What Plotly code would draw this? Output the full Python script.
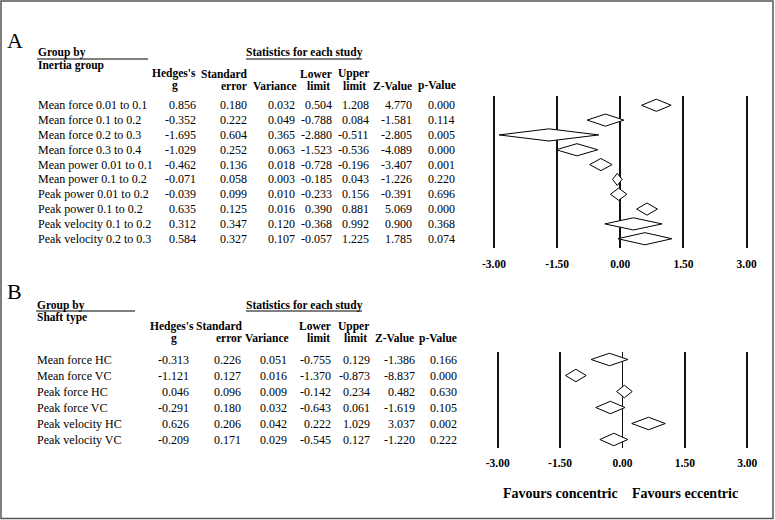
import plotly.graph_objects as go

W, H = 775, 520
SERIF = "Liberation Serif"

# ---- panel A: inertia group ----
inertia_groups = ["Mean force 0.01 to 0.1", "Mean force 0.1 to 0.2", "Mean force 0.2 to 0.3",
                  "Mean force 0.3 to 0.4", "Mean power 0.01 to 0.1", "Mean power 0.1 to 0.2",
                  "Peak power 0.01 to 0.2", "Peak power 0.1 to 0.2", "Peak velocity 0.1 to 0.2",
                  "Peak velocity 0.2 to 0.3"]
a_g = [0.856, -0.352, -1.695, -1.029, -0.462, -0.071, -0.039, 0.635, 0.312, 0.584]
a_se = [0.180, 0.222, 0.604, 0.252, 0.136, 0.058, 0.099, 0.125, 0.347, 0.327]
a_var = [0.032, 0.049, 0.365, 0.063, 0.018, 0.003, 0.010, 0.016, 0.120, 0.107]
a_lo = [0.504, -0.788, -2.880, -1.523, -0.728, -0.185, -0.233, 0.390, -0.368, -0.057]
a_hi = [1.208, 0.084, -0.511, -0.536, -0.196, 0.043, 0.156, 0.881, 0.992, 1.225]
a_z = [4.770, -1.581, -2.805, -4.089, -3.407, -1.226, -0.391, 5.069, 0.900, 1.785]
a_p = [0.000, 0.114, 0.005, 0.000, 0.001, 0.220, 0.696, 0.000, 0.368, 0.074]

# ---- panel B: shaft type ----
shaft_groups = ["Mean force HC", "Mean force VC", "Peak force HC", "Peak force VC",
                "Peak velocity HC", "Peak velocity VC"]
b_g = [-0.313, -1.121, 0.046, -0.291, 0.626, -0.209]
b_se = [0.226, 0.127, 0.096, 0.180, 0.206, 0.171]
b_var = [0.051, 0.016, 0.009, 0.032, 0.042, 0.029]
b_lo = [-0.755, -1.370, -0.142, -0.643, 0.222, -0.545]
b_hi = [0.129, -0.873, 0.234, 0.061, 1.029, 0.127]
b_z = [-1.386, -8.837, 0.482, -1.619, 3.037, -1.220]
b_p = [0.166, 0.000, 0.630, 0.105, 0.002, 0.222]

axis_ticks = [-3, -1.5, 0, 1.5, 3]
axis_labels = ["-3.00", "-1.50", "0.00", "1.50", "3.00"]


def px(x):
    return x / W


def py(y):
    return 1 - y / H


fig = go.Figure()
annots = []
shapes = []


def txt(x, y, s, anchor="left", bold=False, size=12, yref="paper", xref="paper"):
    annots.append(dict(x=x, y=y, xref=xref, yref=yref, text=s, showarrow=False,
                       xanchor=anchor, yanchor="middle", borderpad=0,
                       font=dict(family=SERIF, size=size, color="black",
                                 weight="bold" if bold else "normal")))


def panel(k, letter, letter_y, group_name, labels, cols, col_right, head, grid, zero_w):
    xa = "x" if k == 1 else "x2"
    ya = "y" if k == 1 else "y2"
    n = len(labels)
    top, bot, pad = grid["top"], grid["bot"], grid["pad"]
    x0, unit = grid["zero"], grid["unit"]
    # forest axes
    xax = dict(domain=[px(x0 - 3.5 * unit), px(x0 + 3.5 * unit)], range=[-3.5, 3.5],
               tickvals=axis_ticks, ticktext=axis_labels, showgrid=True, gridcolor="#111",
               gridwidth=1.8, zeroline=zero_w is not None, zerolinecolor="#111",
               zerolinewidth=zero_w or 1, showline=False, ticks="", ticklabelstandoff=7,
               tickfont=dict(family=SERIF, size=11.5, color="black", weight="bold"),
               anchor=ya, fixedrange=True)
    yax = dict(domain=[py(bot), py(top)], range=[n - 1 + pad, -pad], visible=False,
               anchor=xa, fixedrange=True)
    if k == 1:
        fig.update_layout(xaxis=xax, yaxis=yax)
    else:
        fig.update_layout(xaxis2=xax, yaxis2=yax)
    # diamonds
    h = grid["half"]
    for i in range(n):
        g, lo, hi = cols[0][i], cols[3][i], cols[4][i]
        fig.add_trace(go.Scatter(x=[lo, g, hi, g, lo], y=[i, i - h, i, i + h, i],
                                 mode="lines", fill="toself", fillcolor="white",
                                 line=dict(color="black", width=1), hoverinfo="skip",
                                 xaxis=xa, yaxis=ya))
    # table body
    for i in range(n):
        txt(px(head["label_x"]), i, labels[i], yref=ya)
        for c, r in zip(cols, col_right):
            txt(px(r), i, f"{c[i]:.3f}", anchor="right", yref=ya)
    # headers
    txt(px(6), py(letter_y), letter, size=22)
    lx = head["label_x"]
    txt(px(lx), py(head["y0"]), "Group by", bold=True, size=11.5)
    txt(px(lx), py(head["y0"] + 12), group_name, bold=True, size=11.5)
    shapes.append(dict(type="line", xref="paper", yref="paper", x0=px(lx), x1=px(head["gb_end"]),
                       y0=py(head["y0"] + 6), y1=py(head["y0"] + 6),
                       line=dict(color="black", width=1)))
    txt(px(304), py(head["y0"]), "Statistics for each study", anchor="center", bold=True, size=11.5)
    shapes.append(dict(type="line", xref="paper", yref="paper", x0=px(246), x1=px(362),
                       y0=py(head["y0"] + 6), y1=py(head["y0"] + 6),
                       line=dict(color="black", width=1)))
    y1, y2 = head["y1"], head["y1"] + 12
    for s, x, a, yy in head["items"]:
        txt(px(x), py(y1 if yy == 1 else y2), s, anchor=a, bold=True, size=11.5)


a_items = [("Hedges's", 197, "right", 1), ("Standard", 249, "right", 1),
           ("Lower", 333, "right", 1), ("Upper", 370, "right", 1),
           ("g", 175, "center", 2), ("error", 248, "right", 2), ("Variance", 298, "right", 2),
           ("limit", 331, "right", 2), ("limit", 367, "right", 2),
           ("Z-Value", 413, "right", 2), ("p-Value", 457, "right", 2)]
b_items = [("Hedges's", 195, "right", 1), ("Standard", 244, "right", 1),
           ("Lower", 332, "right", 1), ("Upper", 370, "right", 1),
           ("g", 174, "center", 2), ("error", 243, "right", 2), ("Variance", 290, "right", 2),
           ("limit", 331, "right", 2), ("limit", 368, "right", 2),
           ("Z-Value", 415, "right", 2), ("p-Value", 458, "right", 2)]

panel(1, "A", 41, "Inertia group", inertia_groups,
      [a_g, a_se, a_var, a_lo, a_hi, a_z, a_p], [197, 248, 296, 333, 370, 413, 456],
      dict(label_x=37, y0=53, y1=74, gb_end=148, items=a_items),
      dict(top=96, bot=248, pad=0.625, zero=620.3, unit=42.1, half=0.41), None)
panel(2, "B", 291, "Shaft type", shaft_groups,
      [b_g, b_se, b_var, b_lo, b_hi, b_z, b_p], [190, 242, 288, 332, 371, 416, 458],
      dict(label_x=36, y0=305, y1=326, gb_end=135, items=b_items),
      dict(top=351.5, bot=447.5, pad=0.5, zero=622.5, unit=41.6, half=0.39), 1)

txt(-1.5, py(493), "Favours concentric", anchor="center", bold=True, size=14, xref="x2")
txt(1.5, py(493), "Favours eccentric", anchor="center", bold=True, size=14, xref="x2")

# outer frame
shapes.append(dict(type="rect", xref="paper", yref="paper", x0=px(1), x1=px(773),
                   y0=py(518.5), y1=py(1), line=dict(color="#555", width=1.5), layer="below"))

fig.update_layout(width=W, height=H, margin=dict(l=0, r=0, t=0, b=0),
                  paper_bgcolor="white", plot_bgcolor="white", showlegend=False,
                  font=dict(family=SERIF, color="black"),
                  annotations=annots, shapes=shapes)
# page body has a default 8px margin; drop it so the figure sits at the window origin
fig.write_html("out.html", config={"displayModeBar": False},
               post_script="document.body.style.margin='0';")
